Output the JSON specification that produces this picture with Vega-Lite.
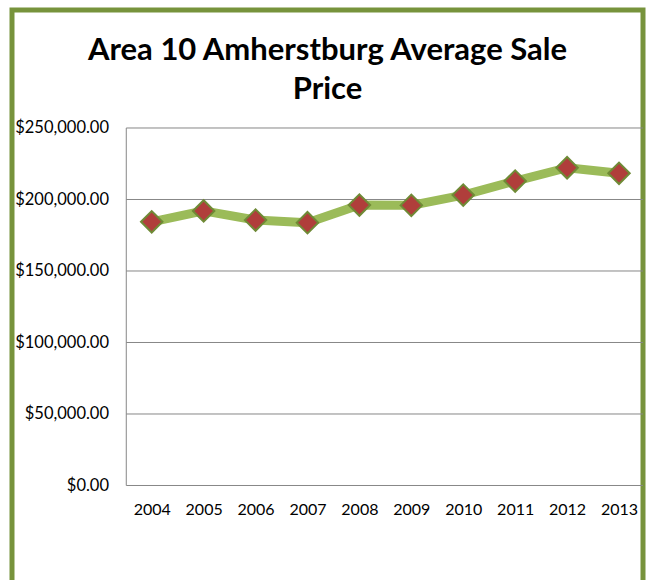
{
  "$schema": "https://vega.github.io/schema/vega-lite/v6.json",
  "width": 631,
  "height": 576,
  "autosize": {"type": "none"},
  "padding": {"left": 12, "top": 10, "right": 4, "bottom": -6},
  "background": "white",
  "config": {
    "view": {"stroke": "#77933C", "strokeWidth": 5, "fill": "white"},
    "font": "Lato"
  },
  "title": {
    "text": ["Area 10 Amherstburg Average Sale", "Price"],
    "fontSize": 31,
    "fontWeight": "bold",
    "font": "Lato",
    "color": "#000000",
    "anchor": "middle",
    "offset": -96,
    "lineHeight": 39
  },
  "datasets": {
    "prices": [
      {"year": 2004, "price": 184400},
      {"year": 2005, "price": 192000},
      {"year": 2006, "price": 185600},
      {"year": 2007, "price": 183800},
      {"year": 2008, "price": 196100},
      {"year": 2009, "price": 195900},
      {"year": 2010, "price": 203100},
      {"year": 2011, "price": 212900},
      {"year": 2012, "price": 222200},
      {"year": 2013, "price": 218300}
    ],
    "grid": [
      {"g": 0}, {"g": 50000}, {"g": 100000}, {"g": 150000}, {"g": 200000}, {"g": 250000}
    ]
  },
  "layer": [
    {
      "data": {"name": "grid"},
      "mark": {"type": "rule", "color": "#878787", "strokeWidth": 1},
      "encoding": {
        "y": {
          "field": "g", "type": "quantitative",
          "scale": {"domain": [-70280, 332517], "nice": false, "zero": false},
          "axis": {
            "values": [0, 50000, 100000, 150000, 200000, 250000],
            "format": "$,.2f",
            "domain": false, "ticks": false, "grid": false,
            "offset": -114.5, "labelPadding": 18,
            "labelFontSize": 16.5, "labelFont": "Lato", "labelColor": "#000000",
            "labelOverlap": false, "labelFlush": false,
            "title": null
          }
        },
        "x": {
          "datum": 2003.51, "type": "quantitative",
          "scale": {"domain": [2001.309, 2013.462], "nice": false, "zero": false},
          "axis": {
            "values": [2004, 2005, 2006, 2007, 2008, 2009, 2010, 2011, 2012, 2013],
            "format": "d",
            "domain": false, "ticks": false, "grid": false,
            "offset": -100.5, "labelPadding": 16,
            "labelFontSize": 16, "labelFont": "Lato", "labelColor": "#000000",
            "labelOverlap": false, "labelFlush": false,
            "title": null
          }
        },
        "x2": {"datum": 2013.462}
      }
    },
    {
      "data": {"values": [{"a": 0}]},
      "mark": {"type": "rule", "color": "#878787", "strokeWidth": 1},
      "encoding": {
        "x": {"datum": 2003.51, "type": "quantitative"},
        "y": {"datum": 0, "type": "quantitative"},
        "y2": {"datum": 250000}
      }
    },
    {
      "data": {"name": "prices"},
      "mark": {"type": "line", "color": "#9BBB59", "strokeWidth": 9, "strokeJoin": "round", "strokeCap": "butt"},
      "encoding": {
        "x": {"field": "year", "type": "quantitative"},
        "y": {"field": "price", "type": "quantitative"}
      }
    },
    {
      "data": {"name": "prices"},
      "mark": {"type": "point", "shape": "diamond", "filled": true, "fill": "#B03E3B", "stroke": "#6F8A36", "strokeWidth": 2, "size": 460, "opacity": 1},
      "encoding": {
        "x": {"field": "year", "type": "quantitative"},
        "y": {"field": "price", "type": "quantitative"}
      }
    }
  ]
}
